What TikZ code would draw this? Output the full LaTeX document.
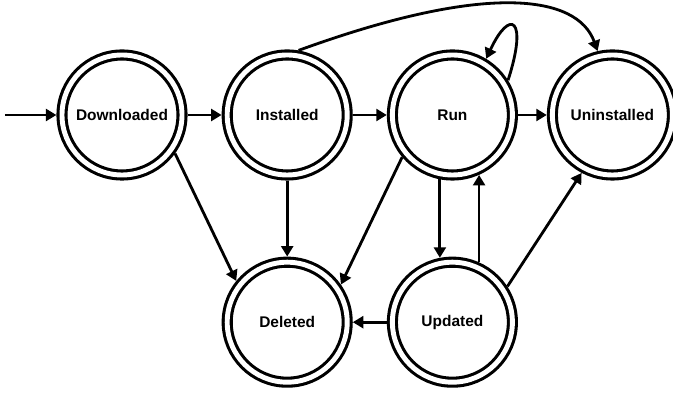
\documentclass[tikz,border=0pt]{standalone}
\usepackage{fontspec}
\setmainfont{Liberation Sans}
\usetikzlibrary{arrows.meta, positioning}

\begin{document}
\begin{tikzpicture}[
  node distance=1.9cm and 0.85cm,
  state/.style={circle, draw, double, line width=2.2pt, double distance=3.5pt,
                minimum size=3cm, inner sep=0pt, outer sep=0.14cm,
                font=\fontsize{11}{13}\selectfont\bfseries},
  arrow/.style={-{Triangle[length=7.5pt, width=8.5pt]}, line width=2pt}
]
  \useasboundingbox (0,0) rectangle (16.825,9.85);

  \node[state] (Downloaded) at (3.05,6.975) {Downloaded};
  \node[state, right=of Downloaded] (Installed) {Installed};
  \node[state, right=of Installed] (Run) {Run};
  \node[state, right=0.72cm of Run] (Uninstalled) {Uninstalled};
  \node[state, below=of Installed] (Deleted) {Deleted};
  \node[state, below=of Run] (Updated) {Updated};
  \coordinate[left=1.29cm of Downloaded] (start);

  % straight transitions
  \draw[arrow] (start) -- (Downloaded);
  \draw[arrow] (Downloaded) -- (Installed);
  \draw[arrow] (Installed) -- (Run);
  \draw[arrow] (Run) -- (Uninstalled);
  \draw[arrow] (Installed) -- (Deleted);
  \draw[arrow] (Downloaded.-36) -- (Deleted.141);
  \draw[arrow] (Run.220) -- (Deleted.35);
  \draw[arrow] (Run.259) -- (Updated.101);
  \draw[arrow] (Updated.66) -- (Run.294);
  \draw[arrow] (Updated) -- (Deleted);
  \draw[arrow] (Updated.33) -- (Uninstalled.242);

  % curved transitions
  \draw[arrow] (Installed.80) .. controls +(20:5cm) and +(110:1.5cm) .. (Uninstalled.103);
  \draw[arrow] (Run.32) .. controls +(72:1.65cm) and +(65:1.4cm) .. (Run.59);
\end{tikzpicture}
\end{document}
